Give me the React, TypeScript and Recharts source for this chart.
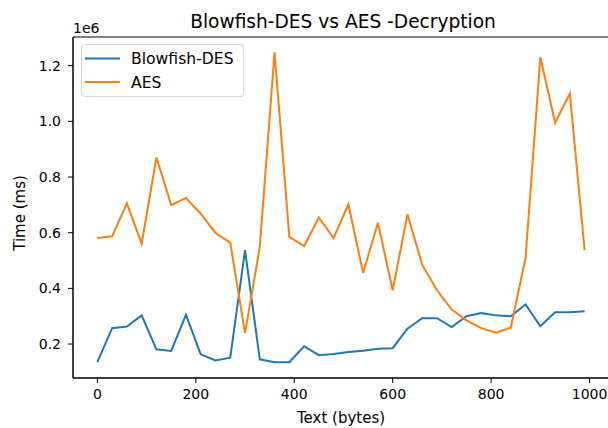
import { Line, LineChart, XAxis, YAxis, ReferenceArea } from "recharts"

const textBytes = [
  0, 30, 60, 90, 120, 150, 180, 210, 240, 270, 300, 330, 360, 390, 420, 450, 480,
  510, 540, 570, 600, 630, 660, 690, 720, 750, 780, 810, 840, 870, 900, 930, 960, 990,
]

const blowfishDes = [
  135000, 257000, 263000, 303000, 181000, 175000, 305000, 163000, 141000, 151000,
  537000, 145000, 135000, 135000, 192000, 160000, 164000, 171000, 176000, 183000,
  185000, 255000, 293000, 293000, 261000, 300000, 311000, 303000, 300000, 342000,
  264000, 314000, 314000, 318000,
]

const aes = [
  581000, 587000, 705000, 561000, 870000, 699000, 725000, 668000, 599000, 564000,
  239000, 549000, 1248000, 585000, 552000, 654000, 581000, 702000, 455000, 636000,
  393000, 666000, 485000, 393000, 324000, 285000, 257000, 241000, 259000, 510000,
  1230000, 995000, 1100000, 537000,
]

const seriesNames = ["Blowfish-DES", "AES"]
const seriesColors = ["#1f77b4", "#ff7f0e"]

const xTicks = [0, 200, 400, 600, 800, 1000]
const yTicks = [200000, 400000, 600000, 800000, 1000000, 1200000]

const xDomain: [number, number] = [-49.5, 1039.5]
const yDomain: [number, number] = [78000, 1303000]

const data = textBytes.map((t, i) => ({
  text: t,
  [seriesNames[0]]: blowfishDes[i],
  [seriesNames[1]]: aes[i],
}))

const font = "DejaVu Sans"

export default function App() {
  return (
    <div style={{ position: "absolute", left: 0, top: 0, width: 608, height: 428, overflow: "hidden", background: "#fff" }}>
      <LineChart width={610} height={428} data={data} margin={{ top: 37, right: 1, bottom: 0, left: 0 }}>
        <XAxis
          dataKey="text"
          type="number"
          domain={xDomain}
          ticks={xTicks}
          allowDataOverflow
          height={50}
          stroke="#000"
          tickSize={5}
          tickMargin={6}
          tick={{ fill: "#000", fontSize: 14, fontFamily: font }}
          label={{ value: "Text (bytes)", position: "insideBottom", offset: 5, fill: "#000", fontSize: 15, fontFamily: font }}
        />
        <YAxis
          type="number"
          domain={yDomain}
          ticks={yTicks}
          allowDataOverflow
          width={73}
          stroke="#000"
          tickSize={5}
          tickMargin={7}
          tick={{ fill: "#000", fontSize: 14, fontFamily: font }}
          tickFormatter={(v: number) => (v / 1e6).toFixed(1)}
        />
        <ReferenceArea
          x1={xDomain[0]}
          x2={xDomain[1]}
          y1={yDomain[0]}
          y2={yDomain[1]}
          fill="none"
          stroke="#000"
          strokeWidth={1}
          ifOverflow="visible"
        />
        {seriesNames.map((name, i) => (
          <Line
            key={name}
            type="linear"
            dataKey={name}
            stroke={seriesColors[i]}
            strokeWidth={2}
            dot={false}
            isAnimationActive={false}
          />
        ))}
        {/* legend box, top-left inside the axes */}
        <g>
          <rect x={81.5} y={44.5} width={162} height={52} rx={3} fill="#fff" fillOpacity={0.8} stroke="#d6d6d6" />
          {seriesNames.map((name, i) => (
            <g key={name}>
              <line x1={85} x2={120} y1={58.5 + i * 23.4} y2={58.5 + i * 23.4} stroke={seriesColors[i]} strokeWidth={2} />
              <text x={131} y={58.5 + i * 23.4 + 5.7} fontFamily={font} fontSize={15.6} fill="#000">
                {name}
              </text>
            </g>
          ))}
        </g>
        <text x={343} y={28} textAnchor="middle" fontFamily={font} fontSize={18.6} fill="#000">
          Blowfish-DES vs AES -Decryption
        </text>
        <text x={73} y={33} textAnchor="start" fontFamily={font} fontSize={14} fill="#000">
          1e6
        </text>
        <text
          x={25}
          y={213}
          textAnchor="middle"
          fontFamily={font}
          fontSize={15}
          fill="#000"
          transform="rotate(-90 25 213)"
        >
          Time (ms)
        </text>
      </LineChart>
    </div>
  )
}
